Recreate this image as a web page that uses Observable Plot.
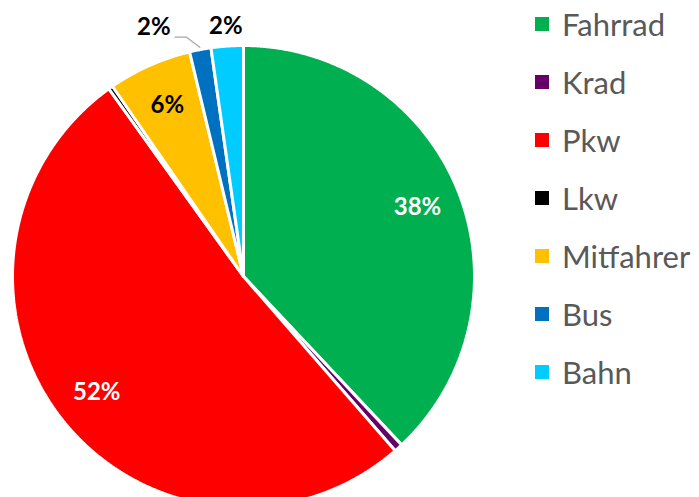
<!DOCTYPE html>
<html><head><meta charset="utf-8">
<script src="https://cdn.jsdelivr.net/npm/d3@7"></script>
<script src="https://cdn.jsdelivr.net/npm/@observablehq/plot@0.6"></script>
<style>
body{margin:0;background:#fff;}
#wrap{position:relative;width:699px;height:497px;overflow:hidden;}
#chart{position:absolute;left:0;top:0;}
#legend{position:absolute;left:535px;top:-5px;font-family:Lato,"Open Sans",sans-serif;font-size:31px;color:#595959;}
.row{display:flex;align-items:center;height:58px;}
.sw{width:14px;height:14px;margin-right:13px;flex:none;}
</style></head>
<body><div id="wrap"><div id="chart"></div><div id="legend"></div></div>
<script>
const categories = ["Fahrrad", "Krad", "Pkw", "Lkw", "Mitfahrer", "Bus", "Bahn"];
const values = [38.0, 0.6, 51.5, 0.3, 5.85, 1.5, 2.25];
const colors = ["#00B050", "#660066", "#FF0000", "#000000", "#FFC000", "#0070C0", "#00CCFF"];
const labelColors = ["#FFFFFF", "#FFFFFF", "#FFFFFF", "#FFFFFF", "#000000", "#000000", "#000000"];

const total = d3.sum(values);
const arcs = d3.pie().sort(null).value(d => d)(values);
const polar = (r, a) => ({x: r * Math.sin(a), y: r * Math.cos(a)});

// slice outlines (unit circle coordinates)
const pts = [];
arcs.forEach((a, i) => {
  const c = categories[i];
  pts.push({cat: c, x: 0, y: 0});
  const n = Math.max(2, Math.ceil((a.endAngle - a.startAngle) / 0.005));
  for (let k = 0; k <= n; k++) {
    const t = a.startAngle + (a.endAngle - a.startAngle) * k / n;
    pts.push({cat: c, ...polar(1, t)});
  }
  pts.push({cat: c, x: 0, y: 0});
});

// labels
const labels = [];
const leaders = [];
arcs.forEach((a, i) => {
  const v = values[i] / total;
  if (v < 0.01) return;
  const mid = (a.startAngle + a.endAngle) / 2;
  const txt = d3.format(".0%")(v);
  if (v >= 0.05) {
    labels.push({...polar(0.81, mid), txt, col: labelColors[i], dx: 0});
  } else if (categories[i] === "Bus") {
    labels.push({...polar(1.1, mid), txt, col: labelColors[i], dx: -42});
    const p0 = polar(1.01, mid), p1 = polar(1.065, mid - 0.045);
    leaders.push({x: p0.x, y: p0.y, k: 0}, {x: p1.x, y: p1.y, k: 0}, {x: p1.x - 0.05, y: p1.y, k: 0});
  } else {
    labels.push({...polar(1.085, mid), txt, col: labelColors[i], dx: 0});
  }
});

const plot = Plot.plot({
  width: 699, height: 497,
  margin: 0,
  x: {domain: [-1, 1], range: [12, 474], axis: null},
  y: {domain: [-1, 1], range: [507, 45], axis: null},
  color: {domain: categories, range: colors},
  style: {background: "transparent"},
  marks: [
    Plot.line(pts, {x: "x", y: "y", z: "cat", fill: "cat", stroke: "white", strokeWidth: 3, strokeLinejoin: "miter", curve: "linear"}),
    Plot.line(leaders, {x: "x", y: "y", z: "k", stroke: "#A6A6A6", strokeWidth: 1.2}),
    Plot.text(labels, {x: "x", y: "y", text: "txt", fill: d => d.col, fontSize: 24, fontWeight: "bold", fontFamily: "Lato, 'Open Sans', sans-serif"})
  ]
});
document.getElementById("chart").appendChild(plot);

// apply per-label dx offsets
const texts = plot.querySelectorAll("g[aria-label=text] text");
texts.forEach((t, i) => {
  if (labels[i].dx) {
    const tr = t.getAttribute("transform") || "";
    t.setAttribute("transform", tr + ` translate(${labels[i].dx},0)`);
  }
});

const legend = document.getElementById("legend");
categories.forEach((c, i) => {
  const row = document.createElement("div");
  row.className = "row";
  row.innerHTML = `<div class="sw" style="background:${colors[i]}"></div><span>${c}</span>`;
  legend.appendChild(row);
});
</script>
</body></html>
